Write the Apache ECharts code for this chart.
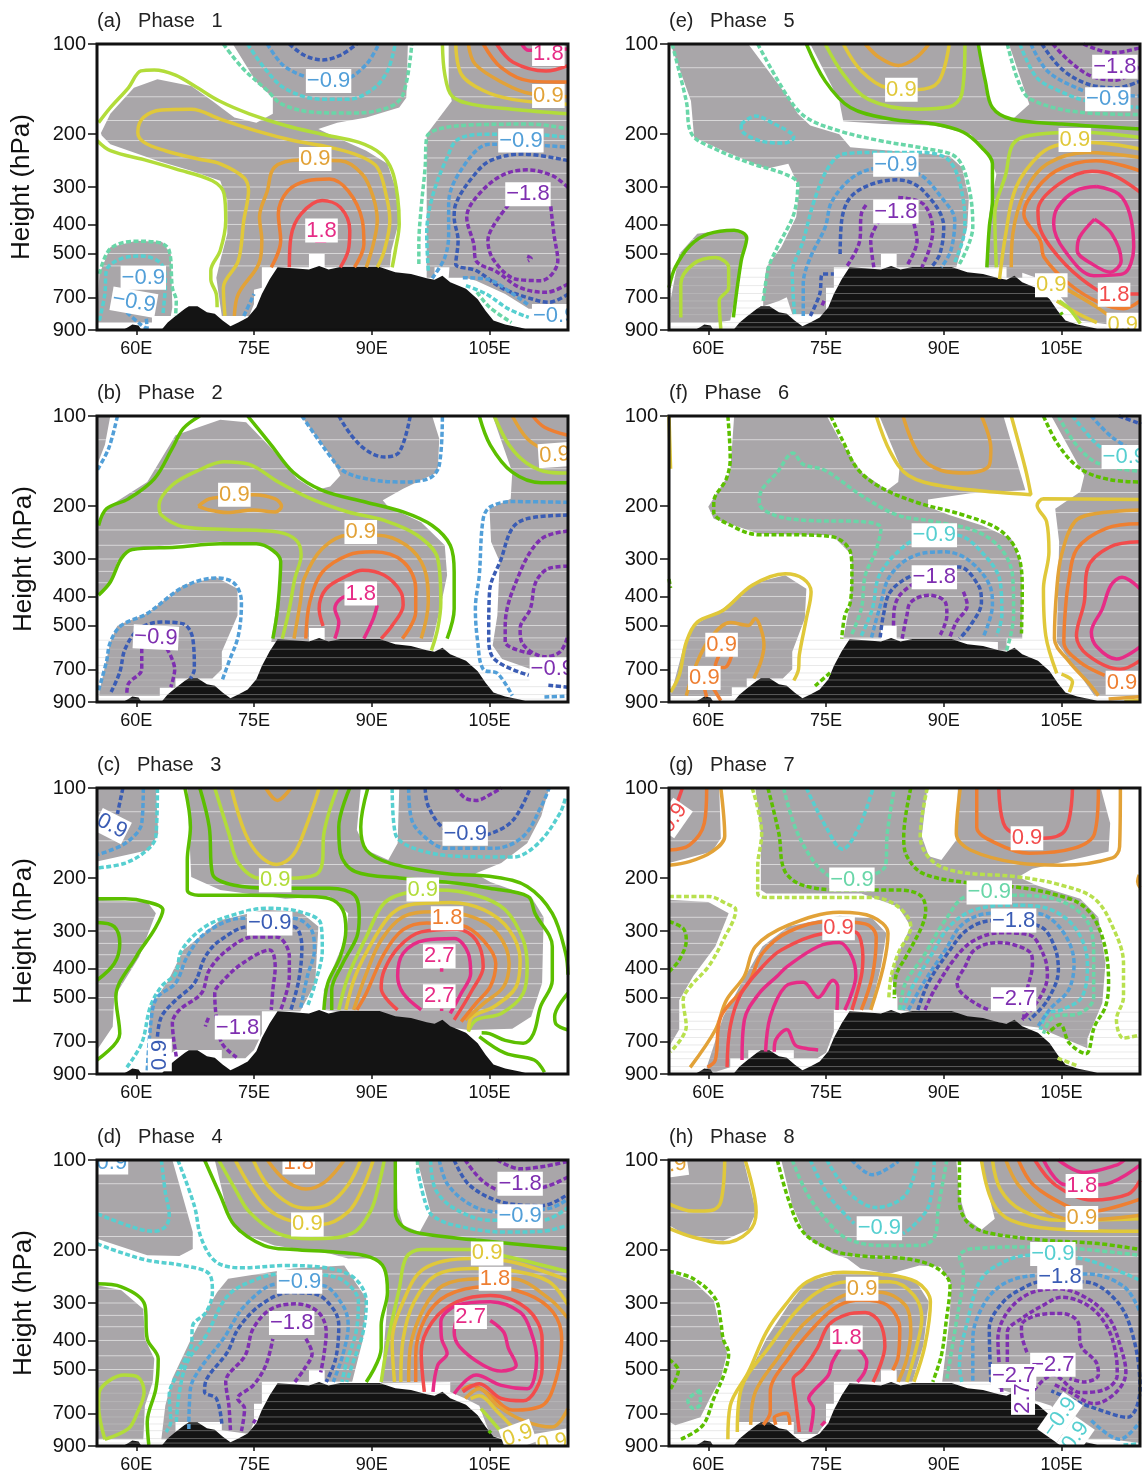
<!DOCTYPE html>
<html><head><meta charset="utf-8">
<style>html,body{margin:0;padding:0;background:#fff}#c{width:1142px;height:1475px}</style>
<script src="https://cdn.jsdelivr.net/npm/echarts@6/dist/echarts.min.js"></script>
</head><body><div id="c"></div>
<script>
// Longitude / pressure pairs are written flat: lon,hPa,lon,hPa...
const pressureTicks=[100,200,300,400,500,700,900];
const lonTicks=[60,75,90,105];
const panelTitles=['(a)   Phase   1','(b)   Phase   2','(c)   Phase   3','(d)   Phase   4','(e)   Phase   5','(f)   Phase   6','(g)   Phase   7','(h)   Phase   8'];
const hatchUpper=[120,150,180,210,240,270,300,330,360,400,450,500,550];
const hatchLower=[560,600,640,680,720,760,800,850,880];
const terrain=[55,900,58.3,900,59,880,59.5,862,60.3,870,60.6,895,61,900,63.2,900,64,850,65,808,66.2,765,66.7,750,67.8,750,69,786,70,795,71,837,72,875,73,850,74.2,817,75.3,755,76,683,77,609,78,556,80,560,82,565,83.3,550,84.5,565,86,555,90,555,91,555,93,577,95,585,97,605,98,612,99,593,100,624,102,656,103.5,710,104.5,777,105.5,837,107,863,109,885,110,900,115,900];

// ---------- Phase 1 ----------
const shadeA=[
[55.5,198,56.7,171,59.7,140,62.7,131,67,138,69.7,155,72.5,176,75.3,183,77.4,171,77.4,151,75.3,134,72.3,100,94.6,100,94.4,151,93.5,163,89.3,176,85.6,183,83.2,192,84.6,200,89.3,227,92,251,93,301,93.5,388,92.5,489,92.3,556,84,556,84,502,82,502,82,556,76,556,76,650,75,660,75,737,74.4,808,70.9,808,70.2,602,70.7,529,71.6,430,71.6,333,70.7,286,67,265,62.7,245,56.7,216,55.6,202],
[97,200,100.2,155,99.8,140,99.8,100,115,100,115,765,110,765,107,683,103.3,616,101.9,602,99.8,602,99.9,556,98,556,98,602,97,602],
[55,850,55.3,585,56.7,477,60,453,63.3,458,64.4,502,64.6,755,64.4,808,62,808,62,850]];
const linesA=[
[2,[55.2,183,56.7,163,59,140,60.6,123,62.3,122,65,127,67.8,140,70.6,155,74.4,171,79,187,83.7,200,88.4,213,91.2,233,92.6,265,93.3,325,93.5,398,93,489,92.6,556]],
[2,[55,210,56.7,227,61.4,245,65,261,69.7,286,71.2,317,71.4,388,70.7,489,69.5,570,69.5,609,70.2,683,70.3,755]],
[3,[71.3,808,71.1,650,73,529,73.7,388,74.3,309,73.7,279,70.7,251,67.9,242,63.7,227,61,213,60.2,197,60.9,176,63.2,166,67,165,70.7,178,75.3,195,80,210,84.6,221,88.4,236,90.7,258,91.9,325,92.3,388,91.6,489,90.7,556]],
[4,[72.5,808,73,683,75.6,542,76,453,75.7,378,76.7,309,77.6,258,80.9,244,86,245,88.8,272,90.2,325,90.7,388,90.2,465,89.3,556]],
[5,[77.2,556,78.4,453,78.1,369,79.3,309,81.8,286,84.6,282,87,309,88.8,388,89,465,87.8,556]],
[-5,[73.7,808,75,683]],
[6,[79.5,556,79.7,441,81,369,83.7,333,86,351,87.2,419,87,489,86,556]],
[7,[82.8,455,84.2,455]],
[-6,[79.5,100,81.4,109,83.7,113,86,109,88.1,100]],
[-5,[76.7,100,78.6,117,81,127,84,133,86.7,131,89.3,117,90.9,100]],
[-4,[74.2,100,76.3,120,79,141,83.7,153,87,153,90.2,141,92,123,93,100]],
[-3,[71.1,100,73.5,120,76.7,143,78.6,159,82.8,169,87.4,170,92.1,163,94,147,95.1,100]],
[2,[99,100,99.3,126,100.2,149,102.8,159,107.9,165,115,171]],
[3,[100.7,100,101.4,126,104.2,143,107.9,153,115,159]],
[4,[102.3,100,103.2,117,107,136,110,146,115,150]],
[5,[104.2,100,106.5,120,110.2,133,115,134]],
[6,[105.9,100,108,115,112.2,123,115,118]],
[7,[109.1,100,110,105,115,104]],
[-3,[96,542,96,465,96.3,351,96.8,258,97,205,98.6,192,103.3,186,110.2,185,115,192]],
[-4,[97.2,570,97,430,97.7,325,99.6,239,101,208,104.7,200,110,200,115,205]],
[-5,[97.7,605,99.3,516,99.8,430,99.8,340,101.6,258,105,216,110.2,217,115,221]],
[-6,[115,245,109.3,233,105.1,245,102.8,279,100.7,342,100.5,378,101,453,100.7,542,103.3,570,106.5,650,109.8,701,112.6,727,115,683]],
[-7,[115,301,113,275,109.8,263,106.5,275,103.3,325,102.1,378,103,465,103.3,529,106,577,108.9,650,112.2,674,115,632]],
[-7,[107.4,344,105.4,408,104.8,453,105.6,529,108.4,609,111.6,616,113.7,529,113.2,430,112.8,347]],
[-7,[109.8,510,110.3,520,109.9,530]],
[-5,[101.6,602,104.7,609,108,683,110.1,747]],
[-4,[102,640,104.6,683,107.4,765,110,817]],
[-3,[103.4,673,105,755,107.8,850]],
[-3,[55.3,585,56.7,482,60,455,62.8,459,64.2,489,64.6,650,65.1,720,65,808]],
[-4,[55.3,837,56,683,56.2,570,58.1,520,60.7,510,63.2,542,63.7,632,63.4,796]],
[-5,[58.8,786,60.5,860,61.4,893]],
[-5,[61.2,780,61.4,893]]];
const labelsA=[[84.5,133,'−0.9',-5,0],[112.5,108,'1.8',7,0],[112.5,149,'0.9',4,0],[109,210,'−0.9',-5,0],[82.8,242,'0.9',4,0],[109.9,317,'−1.8',-7,0],[83.6,419,'1.8',7,0],[60.9,602,'−0.9',-5,0],[59.7,727,'−0.9',-5,10],[113.3,808,'−0.9',-5,0]];

// ---------- Phase 2 ----------
const shadeB=[
[55,100,56.7,100,56,125,55,146],
[55,226,56.7,199,61.4,166,65,116,70.7,103,74,105,77.2,128,80.5,162,82.8,177,84.7,172,86,158,84.7,135,81,100,97.7,100,98.6,119,98.4,154,94,175,91.4,191,92.1,201,96.3,226,99.3,270,99.6,340,98.8,428,97.7,568,84,568,84,510,82,510,82,568,77.2,568,78.4,340,78.4,299,76.7,270,70.7,263,66,267,59.5,277,57.6,306,56.5,367,55,396],
[55.3,834,56.7,568,57.6,500,61.4,456,66,367,70.2,345,72.9,377,72.9,463,70.9,612,70.9,700,69.7,751,65,751,65,806,63,806,63,857,55.3,857],
[105.4,100,107.9,154,107.7,189,105,204,105.2,263,106.3,306,106,463,105.4,583,106.6,647,110.3,700,115,700,115,100]];
const linesB=[
[1,[55.2,232,56.2,204,59,189,62.3,162,64.6,128,66,110,68.1,100]],
[1,[74.2,100,77.2,125,80,154,83.7,177,89.3,194,94,209,97.7,232,100,270,100.5,332,100.5,440,99.6,553]],
[1,[55.2,396,56.7,358,58.1,299,59.5,279,65,274,70.7,267,75.3,267,77.4,281,78.4,306,78.2,386,77.9,463,77.4,553]],
[2,[78.6,553,79.5,440,80.2,349,81,291,80.4,260,78.1,244,71.6,239,66,234,63.2,214,62.9,199,64.6,170,67.9,152,71.1,142,74.4,145,78.1,166,82.3,189,87,209,91.6,223,95.8,250,98.4,299,98.8,418,98.4,512,97.6,606]],
[4,[67.9,200,69.3,189,71.6,186,74.9,183,77.7,189,78.5,200,77.7,209,74.9,206,71.6,210,69.3,206,67.9,200]],
[4,[80.1,553,80.9,418,81.4,349,83.7,277,87,250,90.7,250,94.4,270,96.7,323,97.2,418,96.3,553]],
[5,[81.6,553,82.1,418,83.7,332,87,291,90.2,284,94,306,95.6,377,95.6,451,93.9,553]],
[6,[83.8,502,83.3,440,84.2,377,87,340,88.8,327,91.6,340,93.7,386,94,428,92.6,500,91.2,553]],
[7,[85.3,553,85.8,487,85.3,440,86,408,87.5,395]],
[7,[90.7,428,90.2,474,89,553]],
[-5,[81.1,100,82.8,116,84.6,135,86.3,152,89.3,162,93.5,166,97.2,162,98.6,146,99,100]],
[-6,[85.8,100,87.4,116,89.3,130,91.6,137,93.5,132,94.9,100]],
[-5,[57.6,100,56.5,128,55,152]],
[1,[103.7,100,105.1,125,107.9,154,111.6,167,115,167]],
[2,[105.6,100,107.5,125,109.8,144,112.6,154,115,155]],
[4,[107.9,100,109.8,119,112,130]],
[5,[110.5,100,112,109,115,116]],
[-5,[115,194,107.9,193,105.1,201,104.2,220,103.7,340,103.2,440,103.5,568,104.2,700,106,722,107.9,857]],
[-5,[112,866,115,860]],
[-6,[115,214,109.8,220,107.9,237,106.5,299,105,386,104.9,541,105.6,647,110,733]],
[-6,[112.5,792,115,803]],
[-7,[115,242,111.6,257,108.9,332,107,500,107,568,110.3,620]],
[-7,[115,317,112.5,323,110.9,358,110.2,440,108.9,512,109.1,568,112.1,636,114,612,115,541]],
[-5,[55.2,822,56.2,661,56.7,568,58.1,500,61.4,456,66,372,70.2,347,72.5,362,73.4,418,73,541,71.8,661,70.9,768]],
[-6,[56.8,834,57.9,716,58.6,597,60.4,512,63.2,487,66,494,67.2,553,67.4,700,66.9,751]],
[-7,[60.7,597,60.7,700,59,782,58.8,845]],
[-7,[63.9,597,64.9,700,64.4,803]]];
const labelsB=[[72.5,183,'0.9',4,0],[88.6,244,'0.9',4,0],[88.6,391,'1.8',7,0],[113.3,135,'0.9',4,-4],[62.5,548,'−0.9',-7,3],[113,700,'−0.9',-7,0]];

// ---------- Phase 3 ----------
const shadeC=[
[55,100,62.5,100,62.8,142,61.6,161,55,176],
[66.5,100,67,198,70.7,219,79,234,84.6,230,87,262,86.7,314,83.9,472,83.9,550,102.3,642,107.9,636,110.3,580,111.7,448,111.9,270,110.3,230,105.1,206,103.2,193,106.5,178,109.8,153,111.6,124,112.6,100,93.5,100,93.3,153,92.1,174,89.3,161,88.1,138,88.6,100],
[55,236,61.4,240,62.5,262,60.4,365,57.2,498,57,626,55,748],
[61.8,536,64.1,438,66,347,70.7,276,76.3,255,80.9,259,83.2,290,82.8,448,80.9,556,76,556,76,660,75,748,73.9,797,70.9,797,70.9,748,65,748,61.4,875]];
const linesC=[
[-6,[58.3,100,57.6,122]],
[-5,[60.9,100,60.7,131,58.6,153,55,167]],
[-4,[62.7,100,62.5,145,61.4,161,58.6,178,55,185]],
[1,[66.2,100,66.9,135,66.5,174,66.5,219,67.9,228,74.4,228,81.4,230,84.6,234,86.3,255,86.7,297,86,365,84.4,448,83.9,550]],
[1,[68.1,100,69.3,135,69.7,193,72.5,211,77.7,216,84.6,216,87.8,228,88.4,269,88.1,314,86.3,385,84.9,472,84.9,550]],
[2,[70,100,71.8,142,73,178,75.8,200,79.5,200,82.8,195,83.7,178,83.9,142,85.6,100]],
[3,[72.1,100,73.9,142,75.8,169,77.9,180,80,167,81.6,135,83.3,100]],
[4,[76.5,100,78,110,79.7,100]],
[1,[89.5,100,88.6,135,89.3,161,92.3,178,99.3,193,105.6,198,109.8,213,113,262,114.7,356,115,420]],
[1,[87.2,100,85.8,135,86,165,87.9,190,93.9,200,100.9,208,105,216,109.9,230,110.8,262,113,338,113,438,111.5,536,110.6,660,109.3,710,107,695,105,660,104,655]],
[1,[115,484,113.3,580,113.5,615,115,642]],
[1,[103.7,675,107,767,110.7,808,112,888]],
[1,[55,234,58.6,234,61.4,240,63.4,255,62.3,297,60,365,57.4,498,57.9,660,55,808]],
[1,[55,281,57.2,290,57.9,330,57.2,385,55,438]],
[2,[85.8,550,87,424,89.3,314,91.6,242,94.7,223,98.4,219,103.3,228,107,255,109.3,322,109.8,395,109.3,484,106.5,565,103.3,594,102.3,650]],
[3,[86.7,550,87.9,424,90.2,322,92.6,262,95.4,244,100,241,104.3,255,107.5,297,108.9,375,108.4,460,105.6,536,102.8,580,102.3,640]],
[4,[87.7,550,89.3,416,91.2,322,94,269,97.7,259,102.8,269,106,305,107.5,385,106.8,460,104.3,522,101.9,594]],
[5,[88.1,550,89.3,484,91.6,356,94,297,97,282,101.4,287,104.2,322,105.8,385,105.1,460,103.3,522,101.4,602]],
[6,[93.3,550,91.2,466,91.6,405,93.5,338,96.3,302,100.9,296,103.3,322,104.2,395,102.8,472,100.5,594]],
[7,[96.3,550,94,484,93.3,424,94,356,96.8,322,100.5,318,102.3,356,102.6,416,101.4,484,100,565]],
[7,[98.9,398,98.9,410]],[7,[98.9,544,98.9,555]],
[-4,[92.6,100,93,142,95.4,159,101,169,108,170,111.2,153,114,121,114.7,107]],
[-5,[94.7,100,95.1,128,97.2,149,99.5,159,105.6,159,109.3,145,111.6,115,112.6,100]],
[-6,[96.8,100,97.2,115,99.1,136,102,145,105.1,142,108,128,110.2,100]],
[-7,[100.7,100,101.9,108,103.3,110,105.4,104,106.5,100]],
[-4,[58.8,855,60.7,710,61.8,536,63.2,460,65,416,65.8,347,68.8,290,73,262,76.7,252,80.9,259,83.5,283,83.7,347,82.8,448,81.8,536]],
[-5,[61.4,875,62,565,62.7,498,65,448,66.5,365,68.8,305,73.5,272,80,272,82.3,297,82.7,347,81.8,424,80.9,550]],
[-6,[62.7,675,63.2,580,65,511,67.4,448,68.8,365,70.7,322,74.4,290,80,290,81.1,338,80.7,438,79.7,550]],
[-7,[65.1,787,64.6,609,65.5,550,68.3,484,69.3,405,71.6,347,74.9,314,77.9,314,79.5,365,79.5,424,78.4,550]],
[-7,[72.8,792,70.9,710,70.2,580,70,484,71.1,438,73.5,385,77,347,77.7,395,77.4,472,77.2,550]],
[-7,[69.2,585,68.9,612,68.8,625]]];
const labelsC=[[56.9,134,'0.9',-6,27],[77.7,203,'0.9',2,0],[96.5,218,'0.9',2,0],[77,283,'−0.9',-6,0],[99.6,272,'1.8',5,0],[98.6,364,'2.7',7,0],[98.6,495,'2.7',7,0],[72.9,630,'−1.8',-7,0],[101.9,142,'−0.9',-6,0],[63,778,'0.9',-6,-90]];

// ---------- Phase 4 ----------
const shadeD=[
[55,100,64.6,100,67.2,174,67.2,198,65.5,209,61.4,208,55,183],
[55,262,58.1,272,60.9,314,61.1,395,62.3,460,62.1,550,61.1,660,60.9,855,55,855],
[70,100,71.8,157,73,174,77.6,193,84.6,205,87,213,90.2,213,91.6,230,92.1,276,91.2,556,100,550,100,594,101.9,625,103.7,660,105.1,831,109.8,893,115,893,115,100,95.8,100,97.5,149,96.1,174,94,165,93.3,145,93.1,100],
[70.3,276,71.7,249,80,230,86.5,225,89.3,290,88.9,395,87.5,550,84,550,84,503,82,503,82,550,76,550,76,650,75,650,75,748,74.4,820,70.9,797,70.9,748,65,748,65,855,63.2,855,63.7,660,64.6,536,67,395,68.8,322]];
const linesD=[
[1,[68.7,100,70.7,131,72.5,165,76.3,193,80,199,85.6,203,89.8,211,91.6,230,92,276,91.2,356,91.2,424,89.3,550]],
[2,[70.5,100,72.6,125,74.4,149,78.1,176,82.3,183,87.4,176,89.8,149,90.9,121,91.6,100]],
[3,[72.6,100,74.4,121,76.7,145,79.5,159,83.7,164,87,149,88.8,125,90.2,100]],
[3,[74.9,100,76.7,121,79.5,140,81.8,145,84.6,140,87,121,88.6,100]],
[4,[76.7,100,79,117,81.6,125,84.1,118,86.5,100]],
[1,[93,100,93,149,94,167,96.3,176,103.3,185,115,198]],
[2,[91.2,550,92.1,395,93.5,269,94.4,211,96.3,199,102.8,199,106.5,208,115,236]],
[3,[92.9,550,92.6,405,94,297,96.7,230,102.8,213,107.9,219,115,252]],
[3,[93.7,550,94,395,95.4,297,98.2,242,102.8,230,107.9,234,112.6,255,115,305]],
[4,[94.7,550,94.9,424,96.6,314,99.1,262,103.7,249,107.9,249,112.6,290,115,338]],
[5,[95.6,550,95.6,448,96.8,338,99.6,283,104.7,265,109.8,280,113.1,322,114.2,395,113.5,536,111.7,660,107.9,683,105.1,609,102.8,565,101.5,586]],
[4,[115,675,113,778,109.3,740,106,660,103.7,580,101.9,625]],
[6,[96.7,594,96.3,438,97.7,347,100.9,297,105.1,283,109.8,314,111.7,395,111.7,498,109.3,636,106.5,625,103.7,558,101.6,594]],
[7,[97.8,594,98.4,484,99.6,442,98.9,395,98.8,347,100.9,305,105.1,297,108.9,322,110.3,375,111,460,109.8,580,106.5,565,103.3,522,100.5,602]],
[7,[100.7,347,100.5,375,101.2,420,104.2,484,106.5,506,108.4,484,107.4,424,106.8,375,105.1,343]],
[3,[102.6,625,103.7,612,106,692,107.9,778]],
[2,[103.9,675,105.4,748,106.5,808]],
[1,[104.9,800,105.2,815]],
[1,[55,259,58.1,265,61.1,305,61.4,395,62.8,460,62.5,580,61.4,748,61.6,893]],
[2,[56,855,55.2,660,55.3,594,58.5,522,60.2,530,61,594,60,710,59,787,56,855]],
[-4,[63.2,100,63.7,128,64.2,153,63.7,167,62.2,173,59.4,167,55,151]],
[-4,[55,190,56.7,198,61.4,216,66,225,69.3,240,69.7,276,68.9,322,67.2,356,67,416,65.6,498,64.2,609,64.4,748,63.8,808]],
[-4,[65.3,100,67.4,142,68.3,183,70.2,219,73.5,229,79,225,84.6,230,87.9,249,89.3,297,88.9,375,87.5,484,86.8,550]],
[-4,[65.1,748,65.5,594,66.5,472,68.9,385,71.7,283,75.5,249,78.5,240,83.8,242,86.6,255,88.3,297,88,375,86.8,472,86.2,550]],
[-5,[66.7,790,66.9,580,68.1,498,71.1,395,73.9,305,78.1,259,83.7,262,86.3,305,87,356,86.3,448,85.1,550]],
[-6,[70.9,758,70.2,625,68.7,594,69,536,71.6,438,73,365,75.8,305,79.5,277,82.8,280,85.1,314,85.8,356,85.4,460,84.2,550]],
[-7,[72,797,71.8,660,71.4,550,73.9,448,74.9,365,77.2,314,80.4,302,83.2,322,84.2,375,83.9,448,83.5,511]],
[-7,[73.4,803,73.8,675,72.9,625,74.9,565,76.5,484,77.4,395]],
[-7,[81.6,395,82.4,442,81.4,498,80.2,550]],
[-7,[74.9,755,75.2,735]],
[-3,[95.8,100,95.9,108]],
[-4,[95.8,107,96.8,138,97.7,153,100.5,165,107,174,111.7,173,115,165]],
[-4,[97.5,100,98.1,125,100.5,145,105.1,159,111.7,159,115,144]],
[-5,[98.6,100,99.7,121,102.8,142,106,149,112.6,145,115,135]],
[-6,[100.5,100,102.4,121,106.5,138,111.7,142,115,130]],
[-7,[101.9,100,104.2,118,107,127,112,123,115,114]],
[-7,[106,100,108.9,107,112,105,115,101]]];
const labelsD=[[56.9,102,'0.9',-5,0],[80.7,102,'1.8',5,0],[81.8,164,'0.9',3,0],[108.9,120,'−1.8',-7,0],[108.9,154,'−0.9',-5,0],[104.7,205,'0.9',3,0],[105.7,249,'1.8',5,0],[80.8,255,'−0.9',-5,0],[102.6,334,'2.7',7,0],[79.8,350,'−1.8',-7,0],[108.6,831,'0.9',3,-20],[113,880,'0.9',3,-10]];

// ---------- Phase 5 ----------
const shadeE=[
[55.2,100,57.8,155,58.2,205,61.9,227,67.4,261,70.2,251,71.6,301,71.2,378,69.3,477,67.4,556,67,683,67,750,69,720,70,700,70.7,796,75,796,75,650,76,650,76,556,82,556,82,502,84,502,84,556,91.6,556,93,408,93.2,325,92.3,258,90.7,236,78.1,221,76.7,200,73,187,71.4,171,70.2,151,65.1,100],
[73,100,76.7,155,77.2,181,82.3,185,88.8,187,93.4,200,95.5,227,96.7,272,95.8,369,95.3,556,98,556,98,602,100,602,100,580,101.8,602,104.6,683,107.4,837,115,893,115,100,98.3,100,100.9,159,98.8,178,96.7,171,95.5,151,94.4,100],
[55.2,716,56.3,502,58.6,430,63.2,415,64.9,441,64.2,516,63.3,720,62.8,837,61,850,55.2,850]];
const linesE=[
[-3,[55.4,100,57.2,155,57.9,200,60.9,224,65.6,251,69.8,272,71.4,293,70.9,369,68.8,477,67.7,556,67,720]],
[-3,[66.3,100,70.2,151,72.5,176,76.7,195,81.8,210,87.9,224,91.6,239,93.2,301,93.7,408,92,542]],
[-4,[64.2,185,66,174,68.1,183,70.9,205,69.7,214,66.5,210,64.2,192,64.2,185]],
[-4,[71,796,70.7,585,72.1,453,73.5,333,75.3,258,77.2,233,81.4,230,86.9,230,90.7,245,92.5,333,92.7,408,91.3,542]],
[-5,[72.1,808,72.1,632,73,516,74.9,408,75.8,333,79,272,83,258,86.9,272,89.7,325,91.4,388,90.9,489,89.7,556]],
[-6,[73,808,74.2,683,74.6,585,76,585]],
[-6,[76.8,502,77,388,78.1,325,80.9,293,84.2,284,87.4,309,90,408,89.5,502,88.4,556]],
[-7,[77.7,549,79.3,453,79.5,369,80.2,342]],
[-7,[84.2,325,87.4,342,88.6,419,88.1,489,87.2,556]],
[-7,[81.1,556,80.7,453,81.8,388]],
[-7,[86.2,398,86.6,453,85.3,549]],
[-7,[74.5,745,74.8,715]],
[1,[72.5,100,74.9,133,78.1,163,83.2,178,88.8,185,92.5,197,94.8,221,96.2,251,96.2,333,95.8,408,95.5,556]],
[1,[94.4,100,95.3,133,96.2,163,98.6,178,105,185,115,192]],
[2,[74.9,100,77.2,126,80.4,153,86.5,165,90.7,162,92.3,147,92.7,100]],
[3,[77.2,100,79.5,123,82.8,140,86.5,142,89.3,134,90.7,100]],
[4,[80,100,81.8,111,84.2,118,86.5,111,88.1,100]],
[1,[55,650,55.8,556,57.7,470,60,430,63.3,418,64.9,444,64.2,529,63.2,817]],
[2,[56.5,817,56.5,632,58.1,542,60.9,516,62.6,556,62.6,650,61.4,720,61.6,893]],
[-3,[98.1,100,99.5,133,101.1,153,107.4,169,115,172]],
[-4,[99.7,100,101.8,129,104.6,143,108.3,155,115,163]],
[-5,[101.1,100,103.2,123,106.9,140,110,148,115,149]],
[-6,[102.5,100,105,121,108.3,136,112,140,115,133]],
[-7,[103.9,100,106,114,108.8,128,112,132,115,118]],
[-7,[107.8,100,111.5,107,115,103]],
[2,[96.7,556,96.5,369,97.9,272,98.8,216,100.9,202,107.4,197,115,205]],
[3,[97.1,609,97.9,430,99.2,301,102.3,233,105,216,108.8,213,115,224]],
[4,[98.6,556,98.8,430,100.4,309,103.2,251,108.3,230,115,239]],
[5,[115,265,109.4,245,104.3,265,101,325,100.2,369,102.3,453,102.8,516,106,632,109.7,727,112.9,765,115,720]],
[6,[115,312,111.7,275,108.9,266,104.7,293,102,359,102.2,408,104.7,516,108.4,632,111.2,683,115,683]],
[7,[109.5,299,112.3,317,113.7,369,114.2,477,112.8,585,109.1,593,105.4,489,104,398,104.5,351,106.8,309,109.5,299]],
[7,[109.2,384,111.4,430,112.6,529,111.2,577,108.9,542,107,489,107.3,441,109.2,384]],
[3,[104.4,720,107.2,796,109.5,850]],
[4,[105.3,650,109.5,755,111.8,837]],
[2,[104.7,720,106,765,107.4,857]],
[1,[104.9,786,105.1,800]]];
const labelsE=[[84.6,142,'0.9',3,0],[111.8,119,'−1.8',-7,0],[110.9,153,'−0.9',-5,0],[106.7,209,'0.9',3,0],[83.9,253,'−0.9',-5,0],[83.9,362,'−1.8',-7,0],[103.7,638,'0.9',3,0],[111.7,687,'1.8',6,0],[112.8,865,'0.9',3,0]];

// ---------- Phase 6 ----------
const shadeF=[
[63.3,100,62.8,154,60,201,60.7,220,66.5,247,75.8,250,78.3,291,78.1,418,77.2,553,82,553,82,502,84,502,84,553,96.9,568,96.9,606,98,606,98,553,100,553,100,440,99.9,315,98.6,257,94.9,232,90.7,214,88,201,88,190,93.4,181,100.4,177,97.6,100,81.8,100,84.4,146,84.2,166,82.8,177,79.5,154,76.9,122,75.1,100],
[55.2,857,56.8,597,58.1,500,61.9,440,65.6,362,69.8,340,72.5,377,72.3,474,70.7,612,70.7,700,69.5,751,64.9,751,64.9,803,63,803,63,860,55.2,860],
[103.7,100,107.9,158,107.4,179,104.2,204,104.7,263,104.4,568,109.2,857,115,857,115,100]];
const linesF=[
[-2,[62.5,100,62.8,139,62.3,162,60.7,194,60.7,209,63.2,234,66.5,249,70.2,249,75.8,253,78.1,284,78.3,332,78.1,418,77.4,463,77,553]],
[-2,[75.6,100,77.2,122,79,150,81.8,172,86.5,194,92.5,214,97.2,241,99.5,291,100,386,99.9,532]],
[-2,[73.6,796,75.6,716]],
[-2,[55,350,55.2,375]],
[3,[55,100,55.2,150]],
[-3,[98,606,98.9,463,98.8,349,97.6,284,94.4,244,88.8,225,84.1,214,79.5,184,74.9,152,72.1,145,70.8,133,68.8,154,66.7,179,66.5,196,68.4,214,72.5,223,79.5,225,82,237,81.3,284,80,340,79.5,440,78.2,541]],
[-4,[79.5,541,80.9,440,81.8,340,84.6,277,87,255,91.6,250,94.8,284,97.2,358,97.4,463,96.7,541]],
[-5,[80.8,548,81.8,440,83.2,340,86.5,291,90.2,284,93.4,306,96,377,96.2,428,95.1,541]],
[-6,[81.9,548,82.3,463,83.2,386,86,340,90,320,92,319,94.4,367,94.8,418,93.4,500,92,553]],
[-7,[83.6,500,83.7,440,84.4,396,86.2,362]],
[-7,[92.5,386,93,428,91.6,487,90.7,553]],
[-7,[84.7,553,85.3,463,85.8,418,88.1,396,90.2,418,90.4,463,89.5,541]],
[3,[55.2,834,56.3,733,57.2,568,58.6,487,61.9,445,65.6,367,69.8,336,72.1,349,73.1,386,72.5,474,71.6,627,71.5,700,70.9,763]],
[4,[57.2,857,58.6,661,60.5,541,62.8,489,65.1,500,66,474,66.7,512,67.1,582,66.7,661,65.8,751]],
[5,[63,627,62.1,690,60.9,680,61.4,627]],
[5,[59.5,808,59.8,866]],
[5,[60.7,815,61.6,890]],
[3,[81.4,100,83.2,132,85.5,158,90.2,172,97.2,180,101.1,183,100.4,150,98.6,100]],
[4,[84.8,100,86.9,135,89.7,152,93,155,95.8,146,96,128,94.8,100]],
[3,[115,190,102.7,189,101.9,199,103.1,225,103.4,284,102.7,377,103,541,104.4,722]],
[3,[105,727,106.4,770,106,834]],
[4,[115,206,109.2,212,106.7,225,105,291,104.4,377,104.1,553,106,661,108.3,770,109.7,857]],
[5,[115,229,110.7,237,107,277,105.9,358,105.5,440,105.3,568,107.3,661,110.5,733]],
[6,[115,263,111.1,274,108.3,323,107.9,418,106.9,541,108.3,627,112.5,700,115,655]],
[7,[115,377,112.7,345,111.3,367,110.2,440,108.8,526,109.5,589,112,647,115,589]],
[4,[111,880,115,865]],
[3,[113,895,115,890]],
[-2,[102.7,100,104.6,125,107.4,150,111.1,163,115,166]],
[-3,[104.6,100,106.9,125,109.7,144,115,153]],
[-4,[106.4,100,109.2,122,111,133]],
[-5,[108.8,100,111.5,118,115,134]],
[-6,[112.3,100,115,106]]];
const labelsF=[[113,137,'−0.9',-4,0],[88.8,250,'−0.9',-4,0],[88.8,345,'−1.8',-7,0],[61.7,580,'0.9',5,0],[59.5,748,'0.9',5,0],[112.7,777,'0.9',5,0]];

// ---------- Phase 7 ----------
const shadeG=[
[55,100,61.4,100,61.6,147,60.5,163,55,178],
[66,100,66.7,142,66.7,219,67.4,225,79.5,225,84.2,249,85.8,290,84.2,356,83.3,424,84.1,503,84.1,550,102,630,108.3,738,108.3,685,110.2,522,110.6,385,109.7,270,107.4,234,101.8,211,99.5,198,101.3,186,111,163,111.2,131,110,100,91.8,100,91.6,149,89.7,174,88.1,169,87.2,145,87.9,100],
[55,236,60,240,62.6,262,60.9,338,58.1,424,56.3,511,56.3,640,55,730],
[59.8,855,61.9,580,64.6,430,66.9,338,70.2,290,76.7,267,80.9,272,82.7,305,82,395,80.7,550,76,550,76,650,75,765,73.9,797,70.9,797,70.9,750,65.1,750,65.1,797,62.8,797,62.8,855,61,885,59.8,885]];
const linesG=[
[6,[56.7,100,55.6,121]],
[5,[59.8,100,59.5,131,57.6,155,55,161]],
[4,[61.6,100,62.1,145,60.5,163,57.6,176,55,181]],
[-1,[55,230,60,230,62.3,243,63.5,255,61.9,322,60,395,57.7,460,56.8,511,57.2,625,55.2,758]],
[-2,[55,279,56.8,294,57.2,322,56.3,375,55,410]],
[-1,[65.6,100,66.8,142,66.3,183,66.3,225,67.7,232,74,232,81,232,84.2,249,85.8,290,84.2,356,83.3,424,83,503]],
[-2,[67.6,100,69,142,69.7,188,72,211,77.6,219,84.2,219,87,228,87.7,255,87.2,290,85.2,365,83.9,424,83.7,503]],
[-3,[69.6,100,71.2,138,73.6,178,75.9,200,78,205,81,195,82.6,181,82.8,142,83.7,100]],
[-4,[72.5,100,75,135,77.1,160,79.2,135,81,100]],
[-2,[85.8,100,84.9,145,85.3,169,87.4,193,93,207,98.6,213,103.7,225,107.9,249,110.2,314,111,448,110.6,536,109.2,625,108.1,770,106,710,104.8,615,103.2,660]],
[-1,[87.9,100,87,145,88.4,174,91.6,190,99.5,198,105,211,109.2,234,111.5,290,112.9,385,112.9,498,112,594,112.9,683,115,667]],
[-1,[104.5,796,106.9,843]],
[-3,[84.4,550,85.1,448,87.4,365,90.2,276,93,230,98.6,228,104,234,108.2,276,109.1,365,109.1,498,107.3,565,104,580,102.7,660]],
[-4,[84.8,550,85.8,472,88.3,365,90.7,290,93.9,255,99,246,103.7,255,106.9,297,108.3,385,107.6,498,105,550,103.2,565,102.3,640]],
[-5,[85.5,550,87.4,448,90.2,347,92.5,283,96,262,101.8,262,105,297,106.6,385,105.9,472,103.6,544,102,625]],
[-6,[86.7,550,88,448,90.5,356,93,297,96.2,277,102.3,290,104.1,338,104.6,405,103.2,511,100.9,594]],
[-7,[87.6,550,88.8,472,91.6,365,93.9,322,97.2,304,100.9,309,102.8,365,103.2,424,102.3,498,100,594]],
[-7,[100.2,590,100.4,498,101.3,385,101.1,356,99,334,96.7,328,93.9,347,92.7,395,91.7,448,92.3,484,94.4,530,95.8,550]],
[4,[57.7,855,60.9,642,62.3,511,64.6,424,66,338,70.2,287,76.7,260,80.9,269,82.9,305,82.3,395,80.7,550]],
[5,[59.9,855,60.9,808,61.6,580,65.1,448,66.9,356,70.2,302,75.3,279,80,284,81.4,314,80.9,424,79.5,550]],
[6,[62.4,855,62.8,625,64.2,484,66.9,395,69.3,347,74.9,305,78.6,302,79.7,365,79.5,424,78.3,550]],
[7,[64.3,808,64.6,594,66.5,484,68.8,424,70,395,74,338,76.7,328,78.3,365,78.8,424,78.1,498,77.4,550]],
[7,[67.3,758,67.9,580,69.8,460,72.1,445,74,500,75.9,438,76.5,460,76.4,550]],
[7,[68.4,758,68.6,692,70,639,71.1,722,72.5,740,74,748]],
[4,[92.1,100,91.6,142,93.4,161,99.5,178,105,181,111.5,171,112.4,157,112.5,100]],
[5,[94.2,100,94.2,135,96.7,153,100.9,165,106.5,159,109.2,142,109.7,100]],
[6,[97,100,97.6,131,99,142,102.7,147,105.5,138,106.4,100]],
[4,[114.9,195,114.7,205,115,215]]];
const labelsG=[[55.6,126,'0.9',6,-55],[100.6,147,'0.9',6,0],[78.3,202,'−0.9',-3,0],[95.8,223,'−0.9',-3,0],[98.9,277,'−1.8',-6,0],[76.6,294,'0.9',6,0],[98.9,507,'−2.7',-7,0]];

// ---------- Phase 8 ----------
const shadeH=[
[55,100,64.5,100,66.1,149,65.1,171,61.9,186,57.6,181,55,165],
[55,237,58.1,254,60.7,294,61.4,356,62.4,442,61.6,536,60.2,625,59,722,55.8,768,55,745],
[69.3,100,70.7,142,72.5,181,75.8,205,77.7,213,79.4,230,83,240,86.9,225,89.6,227,91,262,90.7,347,90.2,448,89.8,550,95.8,550,97,580,103.7,660,106.5,855,111.2,855,115,880,115,100,94.6,100,96.5,157,94.8,171,92.9,157,92,132,91.6,100],
[63.7,748,64.2,580,67.4,395,70.2,305,72.5,255,77.2,237,81.8,237,86.5,255,88.1,297,87.4,416,86,550,84,550,84,503,82,503,82,550,76,550,76,650,75,650,75,748,73.9,820,70.9,820,70.9,748,65,748]];
const linesH=[
[3,[62.1,100,61.6,138,60.5,147,58.1,148,55,140]],
[3,[64.7,100,66.1,149,65.1,174,61.9,189,58.1,181,55,169]],
[-2,[55,235,58.1,249,60.9,290,61.6,347,61.9,395,62.6,442,62.1,511,60.7,625,59.3,768,56.5,855]],
[-2,[55,463,56.2,503,55.2,580]],
[-3,[59,586,57.4,636,58.1,675,59,650,59,586]],
[-2,[68.8,100,70.2,135,72.1,174,75.8,200,79.5,209,85.5,214,89.2,230,90.8,262,90.3,347,89.7,448,88.6,550]],
[-2,[92,100,92,138,93,161,95.3,174,102.7,185,109.7,190,115,199]],
[-3,[70.7,100,72.5,128,74.9,157,77.7,183,82.3,193,87,193,88.8,181,89.3,145,90.4,100]],
[-4,[73,100,75.3,131,78.6,163]],
[-4,[88.8,100,88.1,142,86,167,84.8,176]],
[-4,[75.1,100,78.1,130,81.4,144,85.1,131,86.7,100]],
[-5,[78.3,100,80.9,112,84.2,101]],
[3,[62.5,855,62.8,660,65.1,511,67.4,375,69.8,305,72.6,255,77.2,237,81.8,240,86.5,255,88.3,297,87.6,416,86.2,550]],
[3,[63.7,808,64.2,580,67.9,416,71.1,322,73.9,276,77.6,255,83.2,255,86.2,283,87.2,338,86.5,424,85.3,550]],
[4,[65.4,765,66,594,68.8,460,72,356,75.8,297,78.1,279,81.8,276,85.1,305,85.8,369,85.3,460,84.2,550]],
[5,[67,765,67.9,692,67.9,594,70.2,460,73.9,351,76.7,305,79.5,293,82.8,305,84.4,365,84.2,453,83.5,503]],
[5,[68.6,765,68.4,725,70,700,70.4,765]],
[6,[71.6,808,71.1,625,70.8,540,72.1,498,73.9,424,75.3,356,77.6,328,80,323,81.8,347,82.5,418,82,477,81,550]],
[7,[73,808,73.4,675,72.8,625,73.5,586,75.3,522,75.8,472,77,418]],
[7,[78.8,418,80.2,472,79.9,511,79,550]],
[7,[74.4,770,74.9,745]],
[3,[94.8,100,96.2,138,98.6,159,104.1,170,115,173]],
[3,[96.2,100,97.2,125,99.9,147,104.6,159,115,157]],
[4,[97.9,100,99.5,121,103.2,149,107.4,159,115,153]],
[5,[99.5,100,101.4,121,105.6,142,108.3,149,115,135]],
[6,[101.6,100,104.2,121,108.8,136,113.5,130,115,117]],
[7,[102.7,100,105.5,121,110,121,115,104]],
[7,[104.6,100,107.8,110,112,104,113,100]],
[-3,[90.4,536,91.6,347,92.5,237,92,210,93.4,198,101.3,195,107.4,198,115,208]],
[-4,[92.3,550,92,484,93,347,94.8,249,98.1,216,101.1,208,107.4,213,115,252]],
[-5,[93.7,545,93.7,395,95.3,297,98.1,255,102.3,242,108.3,240,113,265,115,322]],
[-6,[96,550,95.8,365,97.6,297,100.4,265,102.3,255,107.9,255,112.1,297,114.2,395,115,580,113.4,722,108.8,667,106,625,103.7,589]],
[-7,[97.4,594,96.9,395,98.1,322,100.9,279,104.6,269,108.3,290,111.1,338,112.5,418,113.2,511,112,594,109.2,650,106,594,103.9,558]],
[-7,[98.1,500,98.1,375,99.9,338,102.7,305,105,287,108.3,305,110.7,356,111.9,440,112.1,522,110.7,580,107.4,597,103.9,522,101.3,594]],
[-7,[100.6,438,99.9,375,99.9,356,101.8,330,105,325,107.1,347,107.5,418,109.4,472,109.7,522,107.9,550,106,536]],
[-5,[108.8,740,112.4,855,115,748]],
[-4,[112.9,893,115,885]]];
const labelsH=[[55.3,104,'0.9',4,-8],[107.6,122,'1.8',7,0],[107.6,156,'0.9',4,0],[81.8,169,'−0.9',-4,0],[103.9,206,'−0.9',-4,0],[104.8,246,'−1.8',-6,0],[79.6,269,'0.9',4,0],[77.6,391,'1.8',7,0],[103.9,482,'−2.7',-7,0],[98.9,526,'−2.7',-7,0],[100.1,625,'2.7',-7,-90],[104.8,722,'−0.9',-4,-55],[106.8,835,'0.9',-4,-55]];

const shades=[shadeA,shadeB,shadeC,shadeD,shadeE,shadeF,shadeG,shadeH];
const contours=[linesA,linesB,linesC,linesD,linesE,linesF,linesG,linesH];
const labels=[labelsA,labelsB,labelsC,labelsD,labelsE,labelsF,labelsG,labelsH];

const POS=['#5cbf00','#b2dc3a','#e0c83a','#e2a238','#ee7f32','#f24c4c','#e62c86'];
const NEG=['#b8e04e','#5cbf00','#69d6a8','#56cfd0','#529fd8','#3a5cb4','#7e2fb0'];
const colorOf=l=>l>0?POS[l-1]:NEG[-l-1];
const lg=p=>Math.log10(p);
const pairs=f=>{const o=[];for(let i=0;i<f.length;i+=2)o.push([f[i],lg(f[i+1])]);return o;};
const LEFT=[97,669],TOP=[44,416,788,1160],W=471,H=286;
const FONT='"Liberation Sans", Arial, sans-serif';

const grid=[],xAxis=[],yAxis=[],series=[],title=[];
for(let k=0;k<8;k++){
  const col=k<4?0:1,row=k%4;
  grid.push({left:LEFT[col],top:TOP[row],width:W,height:H,show:true,backgroundColor:'transparent',borderColor:'#111',borderWidth:3,z:20});
  title.push({text:panelTitles[k],left:LEFT[col],top:TOP[row]-33,padding:0,textStyle:{fontFamily:FONT,fontSize:20,fontWeight:'normal',color:'#222'}});
  xAxis.push({gridIndex:k,type:'value',min:55,max:115,splitLine:{show:false},axisLine:{show:false},
    axisTick:{show:true,length:5,lineStyle:{color:'#111',width:1.5},customValues:lonTicks},
    axisLabel:{color:'#111',fontFamily:FONT,fontSize:18,margin:10,customValues:lonTicks,formatter:v=>v+'E'}});
  const yt=pressureTicks.map(lg);
  yAxis.push({gridIndex:k,type:'value',inverse:true,min:lg(100),max:lg(900),splitLine:{show:false},axisLine:{show:false},
    name:col===0?'Height (hPa)':'',nameLocation:'middle',nameRotate:90,nameGap:col===0?(row===0?62:60):0,
    nameTextStyle:{fontFamily:FONT,fontSize:26,color:'#111'},
    axisTick:{show:true,length:9,lineStyle:{color:'#111',width:1.5},customValues:yt},
    axisLabel:{color:'#111',fontFamily:FONT,fontSize:20,margin:11,customValues:yt,formatter:v=>String(Math.round(Math.pow(10,v)))}});
  const polys=shades[k];
  series.push({type:'custom',xAxisIndex:k,yAxisIndex:k,coordinateSystem:'cartesian2d',clip:true,silent:true,z:1,data:[[55,2]],
    renderItem:(p,api)=>({type:'group',children:polys.map(f=>({type:'polygon',shape:{points:pairs(f).map(q=>api.coord(q))},style:{fill:'#a9a6a9'}}))})});
  hatchUpper.forEach(v=>series.push({type:'line',xAxisIndex:k,yAxisIndex:k,z:2,silent:true,showSymbol:false,data:[[55,lg(v)],[115,lg(v)]],lineStyle:{color:'rgba(255,255,255,0.55)',width:1}}));
  series.push({type:'custom',xAxisIndex:k,yAxisIndex:k,coordinateSystem:'cartesian2d',clip:true,silent:true,z:3,data:[[55,2]],
    renderItem:(p,api)=>({type:'polygon',shape:{points:pairs(terrain).map(q=>api.coord(q))},style:{fill:'#141414'}})});
  if(k!==0&&k!==2) hatchLower.forEach(v=>series.push({type:'line',xAxisIndex:k,yAxisIndex:k,z:4,silent:true,showSymbol:false,data:[[55,lg(v)],[115,lg(v)]],lineStyle:{color:'rgba(200,200,200,0.4)',width:1}}));
  contours[k].forEach(([lev,f])=>series.push({type:'line',xAxisIndex:k,yAxisIndex:k,z:5,silent:true,showSymbol:false,smooth:0.35,clip:true,data:pairs(f),
    lineStyle:{color:colorOf(lev),width:3.5,type:lev<0?[5,2.5]:'solid'}}));
  const labs=labels[k];
  series.push({type:'custom',xAxisIndex:k,yAxisIndex:k,coordinateSystem:'cartesian2d',clip:true,silent:true,z:6,data:labs.map((l,i)=>[l[0],lg(l[1]),i]),
    renderItem:(p,api)=>{const l=labs[p.dataIndex],c=api.coord([l[0],lg(l[1])]);
      return {type:'text',x:c[0],y:c[1],rotation:-l[4]*Math.PI/180,style:{text:l[2],fill:colorOf(l[3]),font:'22px '+FONT,align:'center',verticalAlign:'middle',backgroundColor:'#fff',padding:[1,1]}};}});
}
const chart=echarts.init(document.getElementById('c'),null,{renderer:'canvas'});
chart.setOption({animation:false,backgroundColor:'#fff',title,grid,xAxis,yAxis,series});
</script></body></html>
